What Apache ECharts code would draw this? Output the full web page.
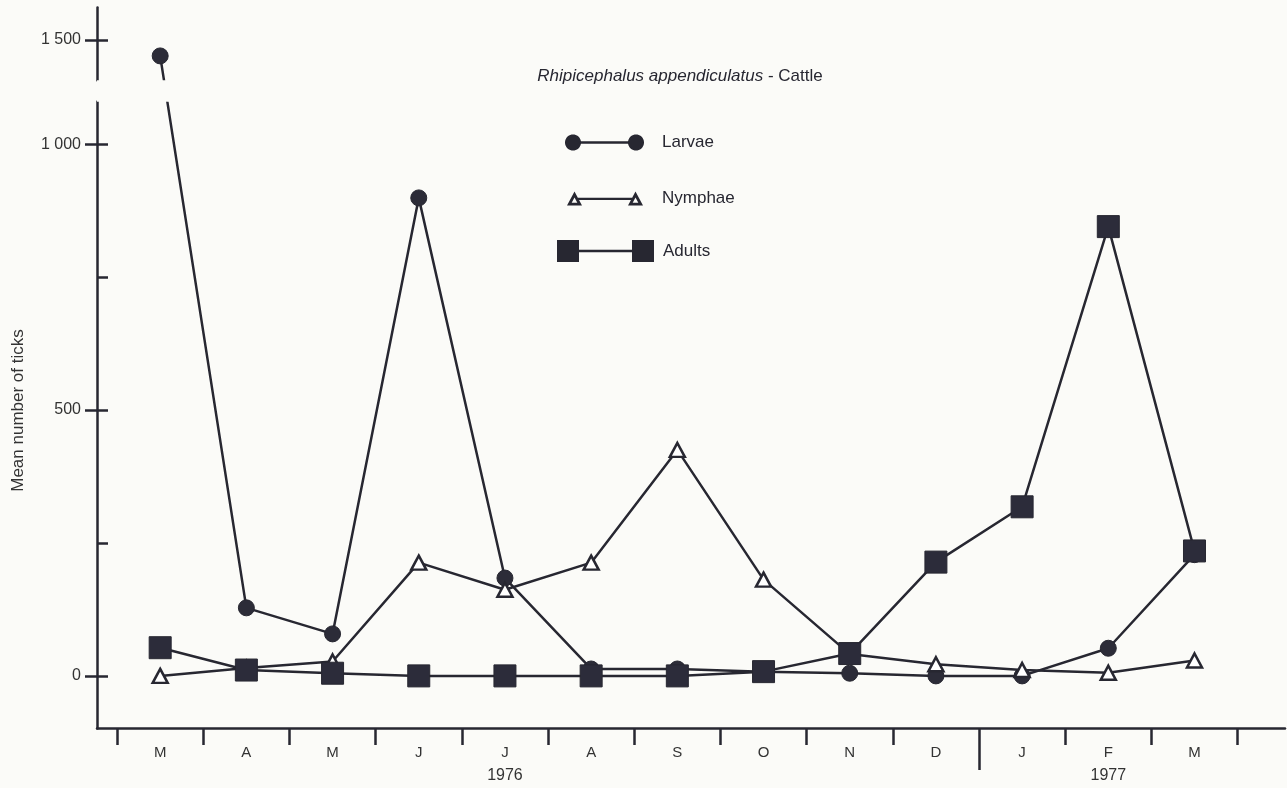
<!DOCTYPE html>
<html>
<head>
<meta charset="utf-8">
<script src="https://cdn.jsdelivr.net/npm/echarts@6/dist/echarts.min.js"></script>
<style>
html,body{margin:0;padding:0;background:#fbfbf8;}
#chart{width:1287px;height:788px;}
</style>
</head>
<body>
<div id="chart"></div>
<script>
// ---- data ----
const months = ['M','A','M','J','J','A','S','O','N','D','J','F','M'];
const years = ['1976','1977'];
const yearPositions = [4, 11];
const larvae  = [1470,128,79,899,184,13,13,8,5,0,0,52,228];
const nymphae = [0,15,27,213,162,213,425,181,41,22,11,6,29];
const adults  = [53,11,5,0,0,0,0,8,42,214,318,845,235];
const yTickValues  = [0,250,500,750,1000,1500];
const yLabelValues = [0,500,1000,1500];
const yLabelText   = ['0','500','1 000','1 500'];

const INK = '#272731';
const BG = '#fbfbf8';
const FONT = 'Liberation Sans, Arial, Helvetica, sans-serif';

const toPairs = arr => arr.map((v,i)=>[i,v]);
const monthTicks = months.map((m,i)=>i-0.5).concat([months.length-0.5]);
const monthIdx = months.map((m,i)=>i);
const xMin = -0.733, xMax = 13.05;
const yMin = -98, yMax = 1562;
const yBreak = [{start:1081, end:1425, gap:40}];
const breakArea = {show:true, itemStyle:{color:BG, borderColor:BG, borderWidth:0, opacity:1}, zigzagAmplitude:0, zigzagZ:10, expandOnClick:false};

// legend icon shapes (symbol-line-symbol)
function circlePath(cx, cy, r){
  let s = '';
  for (let k = 0; k < 36; k++){
    const a = k / 36 * Math.PI * 2;
    s += (k ? ' L' : 'M') + (cx + r*Math.cos(a)).toFixed(2) + ',' + (cy + r*Math.sin(a)).toFixed(2);
  }
  return s + ' Z ';
}
const larvaeIcon = 'path://' + circlePath(8,8,8) + circlePath(71,8,8) + 'M8,6.7 L71,6.7 L71,9.3 L8,9.3 Z';
function triPath(dx){
  return 'M'+dx+',14 L'+(dx+7.5)+',0 L'+(dx+15)+',14 Z M'+(dx+4.68)+',11.2 L'+(dx+10.32)+',11.2 L'+(dx+7.5)+',5.93 Z ';
}
const nymIcon = 'path://' + triPath(0) + triPath(61) + 'M11,6.2 L65,6.2 L65,8.6 L11,8.6 Z';
const adultIcon = 'path://M0,0 L22,0 L22,22 L0,22 Z M75,0 L97,0 L97,22 L75,22 Z M22,9.7 L75,9.7 L75,12.3 L22,12.3 Z';

const legendText = pad => ({fontSize:17, color:INK, fontFamily:FONT, padding:[0,0,0,pad]});

const option = {
  backgroundColor: BG,
  animation: false,
  textStyle: {fontFamily: FONT},
  title: {
    text: '{i|Rhipicephalus appendiculatus} - Cattle',
    left: 680, top: 68, textAlign: 'center', padding: 0, z: 50,
    textStyle: {fontSize:17, fontWeight:'normal', color:INK, fontFamily:FONT,
      rich: {i:{fontStyle:'italic', fontSize:17, color:INK, fontFamily:FONT}}}
  },
  legend: [
    {data:[{name:'Larvae', icon:larvaeIcon, itemStyle:{color:INK, borderWidth:0}}], left:565, top:134, padding:0, itemWidth:79, itemHeight:16, textStyle:legendText(13), selectedMode:false},
    {data:[{name:'Nymphae', icon:nymIcon, itemStyle:{color:INK, borderWidth:0}}], left:567, top:190, padding:0, itemWidth:76, itemHeight:14, textStyle:legendText(14), selectedMode:false},
    {data:[{name:'Adults', icon:adultIcon, itemStyle:{color:INK, borderWidth:0}}], left:557, top:240, padding:0, itemWidth:97, itemHeight:22, textStyle:legendText(4), selectedMode:false}
  ],
  grid: {left:97, right:2, top:7, bottom:60, containLabel:false, outerBoundsMode:'none'},
  xAxis: [
    {type:'value', min:xMin, max:xMax, splitLine:{show:false},
     axisLine:{show:true, onZero:false, lineStyle:{color:INK, width:2.5}},
     axisTick:{show:true, customValues:monthTicks, length:17, lineStyle:{color:INK, width:2.5}},
     axisLabel:{customValues:monthIdx, formatter:v=>months[Math.round(v)], fontSize:15, color:'#333', margin:17, fontFamily:FONT}},
    {type:'value', min:xMin, max:xMax, position:'bottom', splitLine:{show:false},
     axisLine:{show:false, onZero:false},
     axisTick:{show:true, customValues:[9.5], length:42, lineStyle:{color:INK, width:2.5}},
     axisLabel:{customValues:yearPositions, formatter:v=>years[yearPositions.indexOf(Math.round(v))], fontSize:16, color:'#333', margin:40, fontFamily:FONT}}
  ],
  yAxis: [
    {type:'value', min:yMin, max:yMax, breaks:yBreak, breakArea:breakArea, splitLine:{show:false},
     name:'Mean number of ticks', nameLocation:'middle', nameGap:70,
     nameTextStyle:{fontSize:17, color:'#333', fontFamily:FONT, padding:[0,86,0,0]},
     axisLine:{show:true, onZero:false, lineStyle:{color:INK, width:2.5}},
     axisTick:{show:true, inside:true, customValues:yTickValues, length:11, lineStyle:{color:INK, width:2.5}},
     axisLabel:{show:false}},
    {type:'value', min:yMin, max:yMax, breaks:yBreak, breakArea:breakArea, position:'left', offset:0, splitLine:{show:false},
     axisLine:{show:false, onZero:false},
     axisTick:{show:true, customValues:yLabelValues, length:12, lineStyle:{color:INK, width:2.5}},
     axisLabel:{customValues:yLabelValues, formatter:v=>yLabelText[yLabelValues.indexOf(Math.round(v))], fontSize:16, color:'#333', margin:16, fontFamily:FONT}}
  ],
  series: [
    {name:'Larvae', type:'line', data:toPairs(larvae), symbol:'circle', symbolSize:16,
     lineStyle:{color:INK, width:2.5}, itemStyle:{color:'#2c2c38', borderColor:INK, borderWidth:1}, z:3},
    {name:'Nymphae', type:'line', data:toPairs(nymphae), symbol:'triangle', symbolSize:[15,14],
     lineStyle:{color:INK, width:2.5}, itemStyle:{color:'#ffffff', borderColor:INK, borderWidth:2.5}, z:4},
    {name:'Adults', type:'line', data:toPairs(adults), symbol:'rect', symbolSize:22,
     lineStyle:{color:INK, width:2.5}, itemStyle:{color:'#2c2c3a', borderColor:INK, borderWidth:1}, z:5}
  ]
};

const chart = echarts.init(document.getElementById('chart'), null, {renderer:'canvas'});
chart.setOption(option);
</script>
</body>
</html>
